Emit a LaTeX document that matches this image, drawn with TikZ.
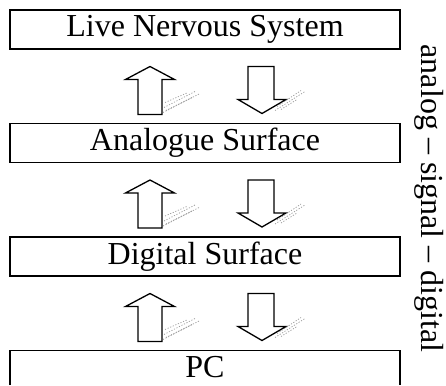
\documentclass[tikz,border=0pt]{standalone}
\usepackage{fontspec}
\setmainfont{Liberation Serif}
\usetikzlibrary{calc}
\begin{document}
\begin{tikzpicture}[x=1pt,y=-1pt,
  box/.style={draw, line width=1.2pt, minimum width=390pt, minimum height=39pt,
    inner sep=0pt, outer sep=0pt, anchor=north west, font=\fontsize{32}{38}\selectfont},
  boxtext/.style={inner sep=0pt, font=\fontsize{32}{38}\selectfont},
  frame/.style={draw, line width=1.2pt},
  blockarrow/.style={draw, line width=1.3pt, fill=white, line join=miter},
  smudge/.style={black!40, line width=0.7pt, dash pattern=on 1.2pt off 1.6pt},
  sidelabel/.style={rotate=-90, inner sep=0pt, font=\fontsize{32}{38}\selectfont},
  pics/uparrow/.style={code={
    \draw[blockarrow] (0,0) -- (24.5,13) -- (12,13) -- (12,48) -- (-12,48) -- (-12,13) -- (-24.5,13) -- cycle;
    \draw[smudge] (13,46) -- (50,27);
    \draw[smudge] (14,41) -- (45,25);
    \draw[smudge] (15,36) -- (38,26);
    \draw[smudge] (16,44) -- (42,31);
  }},
  pics/downarrow/.style={code={
    \draw[blockarrow] (-13,0) -- (13,0) -- (13,33) -- (25,33) -- (1,47) -- (-23,33) -- (-13,33) -- cycle;
    \draw[smudge] (14,44) -- (44,25);
    \draw[smudge] (16,40) -- (40,24);
    \draw[smudge] (20,43) -- (36,33);
  }}]
\useasboundingbox (0,0) rectangle (446,385);
\node[box] (lns) at (10,10) {Live Nervous System};
\node[box] (as) at (10,123.5) {Analogue Surface};
\node[box] (ds) at (10,237) {Digital Surface};
\node[boxtext] (pc) at (205,367) {PC};
\draw[frame] (10,385) |- (400,350.5) -- (400,385);
\pic at ($(lns.south west)+(140,17.5)$) {uparrow};
\pic at ($(lns.south west)+(251,17.5)$) {downarrow};
\pic at ($(as.south west)+(140,17.5)$) {uparrow};
\pic at ($(as.south west)+(251,17.5)$) {downarrow};
\pic at ($(ds.south west)+(140,17.5)$) {uparrow};
\pic at ($(ds.south west)+(251,17.5)$) {downarrow};
\node[sidelabel] (sig) at (429,198.5) {analog -- signal -- digital};
\end{tikzpicture}
\end{document}
